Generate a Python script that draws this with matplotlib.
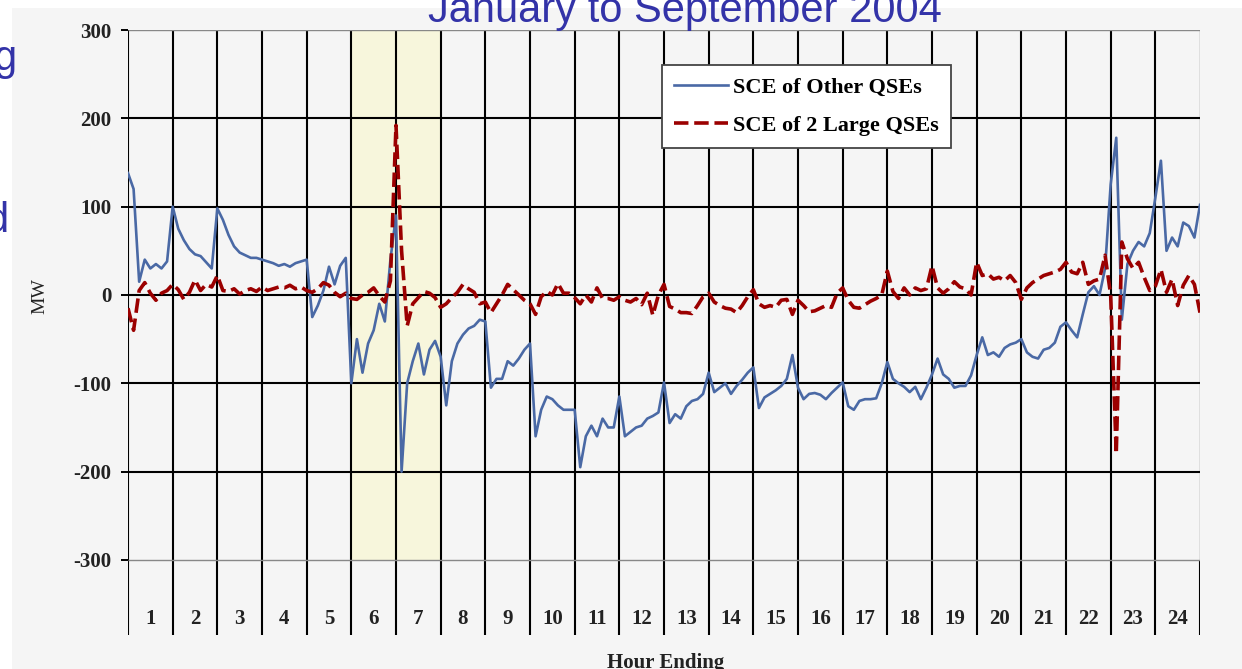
import numpy as np
import matplotlib
matplotlib.use("Agg")
import matplotlib.pyplot as plt
from matplotlib.patches import Rectangle
from matplotlib.transforms import blended_transform_factory

# ---------------- data (MW, sampled every 1/8 hour, hour 0 .. 24) ----------------
steps_per_hour = 8
other_qses = (
    [138, 120, 15, 40, 30, 35, 30, 38] +
    [100, 75, 62, 52, 46, 44, 37, 30] +
    [98, 85, 68, 55, 48, 45, 42, 42] +
    [40, 38, 36, 33, 35, 32, 36, 38] +
    [40, -25, -12, 5, 32, 12, 33, 42] +
    [-100, -50, -88, -55, -40, -10, -30, 40] +
    [90, -200, -100, -75, -55, -90, -62, -52] +
    [-70, -125, -75, -55, -45, -38, -35, -28] +
    [-30, -105, -95, -95, -75, -80, -72, -62] +
    [-55, -160, -130, -115, -118, -125, -130, -130] +
    [-130, -195, -160, -148, -160, -140, -150, -150] +
    [-115, -160, -155, -150, -148, -140, -137, -133] +
    [-99, -145, -135, -140, -126, -120, -118, -112] +
    [-88, -110, -105, -100, -112, -103, -96, -88] +
    [-82, -128, -116, -112, -108, -103, -95, -68] +
    [-105, -118, -112, -111, -113, -118, -111, -105] +
    [-99, -126, -130, -120, -118, -118, -117, -100] +
    [-76, -95, -100, -104, -110, -104, -118, -105] +
    [-90, -72, -90, -95, -105, -103, -103, -91] +
    [-68, -48, -68, -65, -70, -60, -56, -54] +
    [-50, -65, -70, -72, -62, -60, -54, -36] +
    [-31, -40, -48, -22, 3, 10, 0, 30] +
    [125, 178, -28, 35, 50, 60, 55, 70] +
    [110, 152, 50, 65, 55, 82, 78, 65] +
    [102]
)
large_qses = (
    [-15, -40, 5, 14, 2, -6, 2, 5] +
    [12, 6, -5, 3, 17, 5, 12, 9] +
    [22, 5, 4, 7, 1, 5, 7, 4] +
    [9, 5, 7, 9, 8, 11, 7, 9] +
    [5, 3, 7, 14, 11, 3, -2, 2] +
    [-4, -5, 0, 3, 8, -1, -8, 16] +
    [192, 50, -35, -10, -3, 4, 2, -3] +
    [-14, -10, -3, 3, 12, 7, 3, -10] +
    [-8, -20, -10, 0, 12, 6, 0, -6] +
    [-10, -22, -2, 4, 0, 13, 2, 2] +
    [-3, -10, 0, -8, 8, -4, -4, -6] +
    [-2, -6, -8, -4, -11, 2, -23, 0] +
    [12, -13, -16, -20, -20, -21, -12, -2] +
    [2, -8, -12, -15, -16, -20, -12, -2] +
    [6, -10, -14, -12, -14, -6, -5, -22] +
    [-6, -12, -19, -18, -15, -12, -14, 2] +
    [8, -6, -14, -15, -11, -7, -4, 0] +
    [27, 4, -4, 8, 0, 8, 5, 7] +
    [33, 8, 2, 7, 15, 9, 7, 0] +
    [37, 22, 24, 18, 20, 16, 22, 14] +
    [-5, 8, 14, 18, 22, 24, 26, 29] +
    [37, 26, 24, 37, 12, 16, 18, 45] +
    [0, -180, 60, 41, 30, 37, 20, 5] +
    [10, 29, 3, 18, -12, 11, 22, 12] +
    [-20]
)
hour_labels = [str(h) for h in range(1, 25)]
y_ticks = [-300, -200, -100, 0, 100, 200, 300]
y_tick_labels = ["-300", "-200", "-100", "0", "100", "200", "300"]
highlight_hours = (5, 7)
series_names = ["SCE of Other QSEs", "SCE of 2 Large QSEs"]

time_h = np.arange(len(other_qses)) / steps_per_hour

# ---------------- figure ----------------
W, H = 1242, 669
fig = plt.figure(figsize=(W / 100, H / 100), dpi=100)
fig.patch.set_facecolor("white")
fig.add_artist(Rectangle((12 / W, 0), 1, 1 - 8 / H, transform=fig.transFigure,
                         facecolor="#f5f5f5", edgecolor="none", zorder=-10))

ax = fig.add_axes([128 / W, 1 - 635 / H, 1072 / W, 605 / H])
ax.patch.set_alpha(0)
for s in ax.spines.values():
    s.set_visible(False)

ymin, ymax = -385, 300
ax.set_xlim(0, 24)
ax.set_ylim(ymin, ymax)

# highlighted hours
ax.fill_between(highlight_hours, -300, 300, color="#f7f6dc", zorder=0, linewidth=0)

# grid lines
ax.vlines(range(0, 24), ymin, 300, color="black", lw=1.5, zorder=1)
ax.vlines([24], ymin, -300, color="black", lw=1.5, zorder=1)
ax.vlines([24], -300, 300, color="#888888", lw=1.0, zorder=1)
ax.hlines([-200, -100, 0, 100, 200], 0, 24, color="black", lw=1.5, zorder=1)
ax.hlines([-300, 300], 0, 24, color="#888888", lw=1.0, zorder=1)

# data
ax.plot(time_h, other_qses, color="#4a69a5", lw=1.9, zorder=3, label=series_names[0])
ax.plot(time_h, large_qses, color="#9b0000", lw=2.6, zorder=4,
        linestyle=(0, (4, 1.6)), label=series_names[1])

# axes ticks
ax.set_xticks([])
ax.set_yticks(y_ticks)
ax.set_yticklabels(y_tick_labels, fontfamily="Liberation Serif",
                   fontweight="bold", fontsize=15, color="#222222")
ax.tick_params(axis="y", length=5, width=1.4, color="black", pad=7)

trans = blended_transform_factory(ax.transData, ax.transAxes)
for i, lab in enumerate(hour_labels):
    ax.text(i + 0.5, 0.026, lab, transform=trans, ha="center", va="center",
            fontfamily="Liberation Serif", fontweight="bold", fontsize=15,
            color="#222222")

fig.text(40 / W, 1 - 296 / H, "MW", rotation=90, ha="center", va="center",
         fontfamily="Liberation Serif", fontsize=14, color="#222222")
fig.text(666 / W, 1 / H, "Hour Ending", ha="center", va="baseline",
         fontfamily="Liberation Serif", fontweight="bold", fontsize=15,
         color="#222222")

leg = ax.legend(loc="upper left", bbox_to_anchor=(662 / W, 1 - 65 / H),
                bbox_transform=fig.transFigure, frameon=True, fancybox=False,
                prop={"family": "Liberation Serif", "weight": "bold", "size": 16},
                handlelength=2.4, handletextpad=0.25, labelspacing=0.8,
                borderpad=0.55, borderaxespad=0)
leg.get_frame().set_facecolor("white")
leg.get_frame().set_edgecolor("#444444")
leg.get_frame().set_linewidth(1.3)
leg.get_frame().set_alpha(1)
leg.set_zorder(6)

# slide title and cut-off slide text
fig.text(685 / W, 1 - 22 / H, "January to September 2004", ha="center",
         va="baseline", fontfamily="Liberation Sans", fontsize=30, color="#3333a8")
fig.text(16 / W, 1 - 70 / H, "g", ha="right", va="baseline",
         fontfamily="Liberation Sans", fontsize=30, color="#3333a8")
fig.text(8 / W, 1 - 232 / H, "d", ha="right", va="baseline",
         fontfamily="Liberation Sans", fontsize=30, color="#3333a8")

fig.savefig("out.png", dpi=100, facecolor=fig.get_facecolor())
